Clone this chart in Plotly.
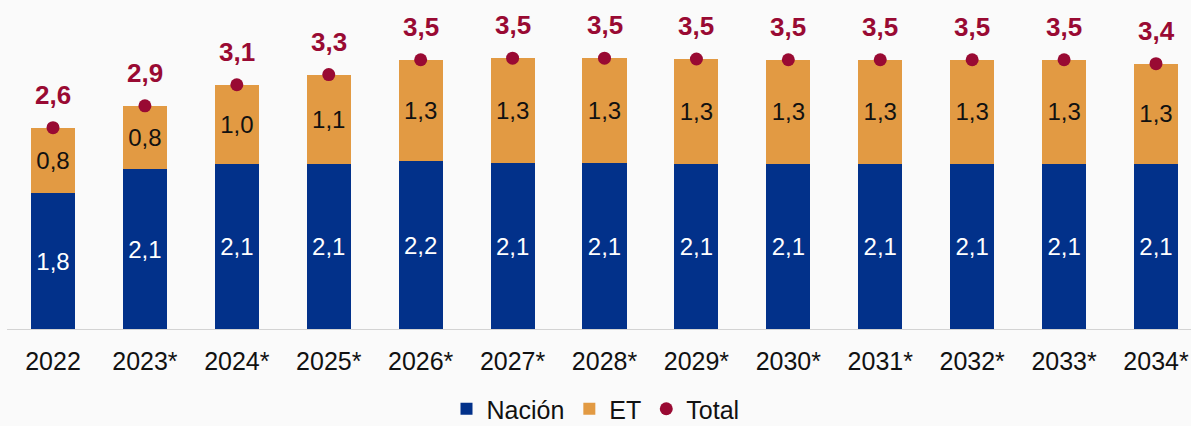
import plotly.graph_objects as go

# Categories (years; * = projection)
years = ["2022", "2023*", "2024*", "2025*", "2026*", "2027*", "2028*",
         "2029*", "2030*", "2031*", "2032*", "2033*", "2034*"]

# Series values (billions), shown with one decimal
nacion = [1.76, 2.06, 2.13, 2.13, 2.16, 2.14, 2.14, 2.13, 2.13, 2.13, 2.13, 2.13, 2.13]
et = [0.83, 0.81, 1.01, 1.14, 1.30, 1.34, 1.34, 1.34, 1.33, 1.33, 1.33, 1.33, 1.28]
total = [2.59, 2.87, 3.14, 3.27, 3.46, 3.48, 3.48, 3.47, 3.46, 3.46, 3.46, 3.46, 3.41]

BLUE = "#02318A"
ORANGE = "#E29A43"
RED = "#990A33"
FONT = "Liberation Sans, Arial, sans-serif"

fig = go.Figure()

fig.add_trace(go.Bar(
    x=years, y=nacion, name="Nación", marker=dict(color=BLUE, line=dict(width=0)),
    width=0.48, texttemplate="%{y:.1f}", textposition="inside",
    insidetextanchor="middle", constraintext="none",
    textfont=dict(family=FONT, size=24, color="white"),
))
fig.add_trace(go.Bar(
    x=years, y=et, name="ET", marker=dict(color=ORANGE, line=dict(width=0)),
    width=0.48, texttemplate="%{y:.1f}", textposition="inside",
    insidetextanchor="middle", constraintext="none",
    textfont=dict(family=FONT, size=24, color="#111111"),
))
fig.add_trace(go.Scatter(
    x=years, y=total, name="Total", mode="markers",
    marker=dict(color=RED, size=13),
))

# Total value labels above the dots (x given as category index)
for i, t in enumerate(total):
    fig.add_annotation(
        x=i, y=t, xref="x", yref="y", text=f"<b>{t:.1f}</b>".replace(".", ","),
        showarrow=False, yshift=33, yanchor="middle",
        font=dict(family=FONT, size=26, color=RED),
    )

# Baseline
fig.add_shape(type="line", xref="x", yref="y", x0=-0.5, x1=12.6, y0=0, y1=0,
              line=dict(color="#D3D3D3", width=2), layer="above")

px_per_cat = 91.92
fig.update_layout(
    width=1191, height=426,
    margin=dict(l=0, r=0, t=0, b=96, autoexpand=False),
    paper_bgcolor="#FAFAFA", plot_bgcolor="rgba(0,0,0,0)",
    barmode="stack", separators=",.",
    font=dict(family=FONT, size=25, color="#111111"),
    xaxis=dict(
        type="category", automargin=False,
        range=[-53 / px_per_cat, 12 + 35 / px_per_cat],
        showgrid=False, zeroline=False, showline=False,
        ticks="", ticklabelstandoff=14,
        tickfont=dict(family=FONT, size=25, color="#111111"),
    ),
    yaxis=dict(range=[0, 330 / 78.1], visible=False),
    legend=dict(
        orientation="h", traceorder="normal",
        x=0.5, xanchor="center", xref="container",
        y=(426 - 409) / 426, yanchor="middle", yref="container",
        font=dict(family=FONT, size=25, color="#111111"),
        itemwidth=30, tracegroupgap=0, bgcolor="rgba(0,0,0,0)",
    ),
    showlegend=True,
)

fig.write_html("out.html")
